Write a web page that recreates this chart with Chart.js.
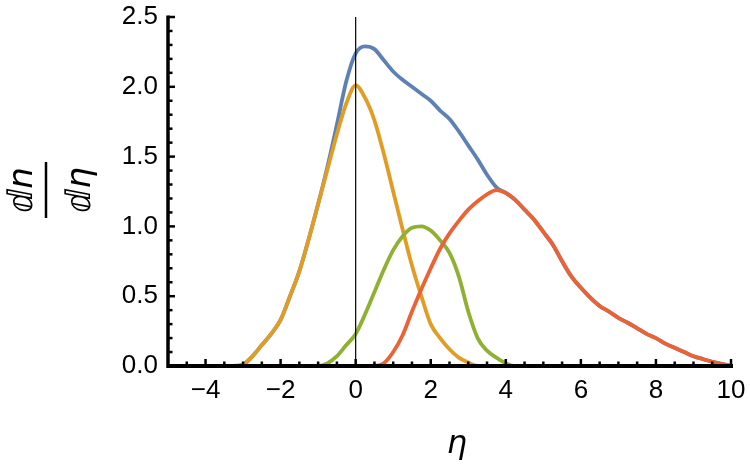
<!DOCTYPE html>
<html>
<head>
<meta charset="utf-8">
<script src="https://cdn.jsdelivr.net/npm/chart.js@4/dist/chart.umd.min.js"></script>
<style>
  html, body { margin: 0; padding: 0; background: #fff; }
  #wrap { width: 750px; height: 469px; }
</style>
</head>
<body>
<div id="wrap"><canvas id="plot" width="750" height="469"></canvas></div>
<script>
// tick labels
const xTickVals = [-4, -2, 0, 2, 4, 6, 8, 10];
const yTickVals = [0, 0.5, 1, 1.5, 2, 2.5];

// total (blue)
const blueEta = [-5, -3.25, -3, -2.75, -2.5, -2.25, -2, -1.75, -1.5, -1.25, -1, -0.75, -0.5, -0.25, 0, 0.25, 0.5, 0.75, 1, 1.25, 1.5, 1.75, 2, 2.25, 2.5, 2.75, 3, 3.25, 3.5, 3.75, 4, 4.25, 4.5, 4.75, 5, 5.25, 5.5, 5.75, 6, 6.25, 6.5, 6.75, 7, 7.25, 7.5, 7.75, 8, 8.25, 8.5, 8.75, 9, 9.25, 9.5, 9.75, 10];
const blueVal = [0, 0, 0.01, 0.07, 0.15, 0.23, 0.33, 0.5, 0.68, 0.91, 1.16, 1.43, 1.73, 2.04, 2.24, 2.29, 2.27, 2.19, 2.11, 2.05, 2.0, 1.95, 1.9, 1.83, 1.77, 1.68, 1.58, 1.48, 1.37, 1.28, 1.24, 1.19, 1.12, 1.05, 0.96, 0.87, 0.75, 0.64, 0.56, 0.49, 0.43, 0.39, 0.345, 0.31, 0.27, 0.23, 0.2, 0.16, 0.13, 0.1, 0.07, 0.05, 0.03, 0.015, 0];

// orange, centred on 0
const orangeEta = [-5, -3.25, -3, -2.75, -2.5, -2.25, -2, -1.75, -1.5, -1.25, -1, -0.75, -0.5, -0.25, 0, 0.25, 0.5, 0.75, 1, 1.25, 1.5, 1.75, 2, 2.25, 2.5, 2.75, 3, 3.25, 10];
const orangeVal = [0, 0, 0.01, 0.07, 0.15, 0.23, 0.33, 0.5, 0.68, 0.91, 1.16, 1.41, 1.66, 1.88, 2.01, 1.92, 1.76, 1.52, 1.25, 0.98, 0.72, 0.5, 0.3, 0.2, 0.12, 0.06, 0.025, 0, 0];

// green
const greenEta = [-5, -1, -0.75, -0.5, -0.25, 0, 0.25, 0.5, 0.75, 1, 1.25, 1.5, 1.75, 2, 2.25, 2.5, 2.75, 3, 3.25, 3.5, 3.75, 4, 4.25, 10];
const greenVal = [0, 0, 0.02, 0.07, 0.15, 0.23, 0.37, 0.53, 0.69, 0.83, 0.93, 0.99, 1.0, 0.97, 0.9, 0.81, 0.64, 0.39, 0.2, 0.11, 0.06, 0.02, 0, 0];

// red
const redEta = [-5, 0.5, 0.75, 1, 1.25, 1.5, 1.75, 2, 2.25, 2.5, 2.75, 3, 3.25, 3.5, 3.75, 4, 4.25, 4.5, 4.75, 5, 5.25, 5.5, 5.75, 6, 6.25, 6.5, 6.75, 7, 7.25, 7.5, 7.75, 8, 8.25, 8.5, 8.75, 9, 9.25, 9.5, 9.75, 10];
const redVal = [0, 0, 0.02, 0.1, 0.22, 0.39, 0.55, 0.7, 0.84, 0.95, 1.04, 1.12, 1.18, 1.23, 1.26, 1.24, 1.19, 1.12, 1.05, 0.96, 0.87, 0.75, 0.64, 0.56, 0.49, 0.43, 0.39, 0.345, 0.31, 0.27, 0.23, 0.2, 0.16, 0.13, 0.1, 0.07, 0.05, 0.03, 0.015, 0];

function pts(xs, ys) {
  return xs.map((x, i) => ({ x: x, y: ys[i] }));
}

function line(label, xs, ys, color, order) {
  return {
    label: label,
    data: pts(xs, ys),
    borderColor: color,
    borderWidth: 3.8,
    pointRadius: 0,
    fill: false,
    cubicInterpolationMode: 'monotone',
    order: order
  };
}

// axes with inward ticks, the eta = 0 line and the two axis titles
const mmaAxes = {
  id: 'mmaAxes',
  afterDatasetsDraw(chart) {
    const ctx = chart.ctx;
    const xs = chart.scales.x, ys = chart.scales.y;
    const y0 = ys.getPixelForValue(0);
    const xl = xs.getPixelForValue(-5);
    ctx.save();
    // vertical line at eta = 0
    ctx.strokeStyle = '#000';
    ctx.lineWidth = 1.2;
    const xz = xs.getPixelForValue(0);
    ctx.beginPath();
    ctx.moveTo(xz, ys.getPixelForValue(2.5));
    ctx.lineTo(xz, y0);
    ctx.stroke();

    // axis lines
    ctx.lineWidth = 4;
    ctx.beginPath();
    ctx.moveTo(xl, y0);
    ctx.lineTo(xs.getPixelForValue(10) + 2, y0);
    ctx.stroke();
    ctx.lineWidth = 3.5;
    ctx.beginPath();
    ctx.moveTo(xl, y0 + 2);
    ctx.lineTo(xl, ys.getPixelForValue(2.5) - 1.5);
    ctx.stroke();

    // x ticks (every 0.5, major on even numbers)
    ctx.lineWidth = 2.5;
    for (let k = -9; k <= 20; k++) {
      const px = xs.getPixelForValue(k / 2);
      const len = (k % 4 === 0) ? 7 : 4.5;
      ctx.beginPath();
      ctx.moveTo(px, y0);
      ctx.lineTo(px, y0 - len);
      ctx.stroke();
    }
    // y ticks (every 0.1, major every 0.5)
    for (let k = 1; k <= 25; k++) {
      const py = ys.getPixelForValue(k / 10);
      const len = (k % 5 === 0) ? 7 : 4.5;
      ctx.beginPath();
      ctx.moveTo(xl, py);
      ctx.lineTo(xl + len, py);
      ctx.stroke();
    }

    // titles
    ctx.fillStyle = '#000';
    ctx.font = 'italic 32px "DejaVu Sans"';
    ctx.textAlign = 'center';
    ctx.textBaseline = 'alphabetic';
    ctx.fillText('\u03B7', 457, 453);

    ctx.translate(46, 190);
    ctx.rotate(-Math.PI / 2);
    ctx.font = 'italic 34px "DejaVu Sans"';
    ctx.fillText('\u2146n', 0, -14);
    ctx.fillText('\u2146\u03B7', 0, 44);
    ctx.lineWidth = 2.5;
    ctx.beginPath();
    ctx.moveTo(-28, 0);
    ctx.lineTo(28, 0);
    ctx.stroke();
    ctx.restore();
  }
};

const tickFont = { family: '"Liberation Sans", Arial, sans-serif', size: 26 };

new Chart(document.getElementById('plot'), {
  type: 'line',
  data: {
    datasets: [
      line('total', blueEta, blueVal, '#5E81B5', 3),
      line('a', orangeEta, orangeVal, '#E19C24', 2),
      line('b', greenEta, greenVal, '#8FB032', 1),
      line('c', redEta, redVal, '#EB6235', 0)
    ]
  },
  options: {
    responsive: false,
    animation: false,
    devicePixelRatio: 1,
    layout: { padding: { top: 17, right: 19, left: 0, bottom: 0 } },
    plugins: { legend: { display: false }, tooltip: { enabled: false } },
    scales: {
      x: {
        type: 'linear',
        min: -5,
        max: 10,
        grid: { display: false, drawTicks: false },
        border: { display: false },
        afterBuildTicks: s => { s.ticks = xTickVals.map(v => ({ value: v })); },
        afterFit: s => { s.height = 103; s.paddingLeft = 0; s.paddingRight = 0; },
        ticks: {
          font: tickFont,
          color: '#000',
          padding: 9,
          maxRotation: 0,
          callback: v => (v < 0 ? '\u2212' + Math.abs(v) : String(v))
        }
      },
      y: {
        min: 0,
        max: 2.5,
        grid: { display: false, drawTicks: false },
        border: { display: false },
        afterBuildTicks: s => { s.ticks = yTickVals.map(v => ({ value: v })); },
        afterFit: s => { s.width = 168; s.paddingTop = 0; s.paddingBottom = 0; },
        ticks: {
          font: tickFont,
          color: '#000',
          padding: 10,
          callback: v => Number(v).toFixed(1)
        }
      }
    }
  },
  plugins: [mmaAxes]
});
</script>
</body>
</html>
